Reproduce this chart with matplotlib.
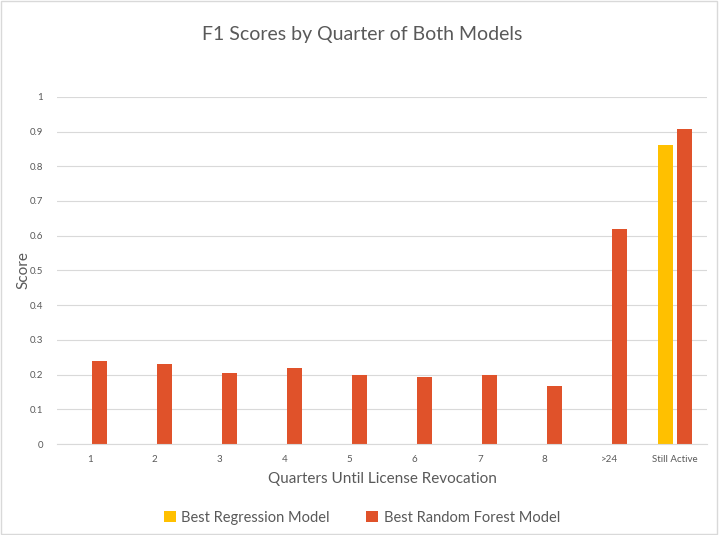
import numpy as np
import matplotlib
matplotlib.use("Agg")
import matplotlib.pyplot as plt
from matplotlib.patches import Rectangle

plt.rcParams['font.family'] = ['Lato', 'DejaVu Sans']

categories = ["1", "2", "3", "4", "5", "6", "7", "8", ">24", "Still Active"]
regression = [np.nan] * 9 + [0.862]
random_forest = [0.239, 0.23, 0.204, 0.218, 0.2, 0.194, 0.2, 0.168, 0.618, 0.908]

text_color = "#595959"
grid_color = "#D9D9D9"

fig = plt.figure(figsize=(7.24, 5.35), dpi=100)
ax = fig.add_axes([0.079, 0.170, 0.898, 0.649])

x = np.arange(len(categories))
width = 0.23
offset = 0.145
ax.bar(x - offset, regression, width, color="#FFC000", label="Best Regression Model")
ax.bar(x + offset, random_forest, width, color="#E0522A", label="Best Random Forest Model")

ax.set_xlim(-0.5, len(categories) - 0.5)
ax.set_ylim(0, 1)
ax.set_yticks(np.arange(0, 1.01, 0.1))
ax.set_yticklabels(["0", "0.1", "0.2", "0.3", "0.4", "0.5", "0.6", "0.7", "0.8", "0.9", "1"])
ax.set_xticks(x)
ax.set_xticklabels(categories)
ax.tick_params(length=0, labelsize=7, colors=text_color, pad=8)
ax.tick_params(axis='y', pad=10)

ax.grid(axis='y', color=grid_color, linewidth=0.8)
ax.set_axisbelow(True)
for side in ["top", "right", "left"]:
    ax.spines[side].set_visible(False)
ax.spines["bottom"].set_color(grid_color)

ax.set_xlabel("Quarters Until License Revocation", fontsize=11, color=text_color, labelpad=6)
fig.text(0.033, 0.495, "Score", rotation=90, ha="center", va="center",
         fontsize=11, color=text_color)
fig.suptitle("F1 Scores by Quarter of Both Models", fontsize=14, color=text_color, y=0.952)

fig.legend(loc="center", bbox_to_anchor=(0.5, 0.032), ncol=2, frameon=False,
           fontsize=10.5, labelcolor=text_color, handlelength=0.8, handleheight=0.8,
           handletextpad=0.4, columnspacing=2.5)

fig.patches.append(Rectangle((0.001, 0.001), 0.99, 0.997, transform=fig.transFigure,
                             fill=False, edgecolor=grid_color, linewidth=1))

fig.savefig("out.png", dpi=100)
